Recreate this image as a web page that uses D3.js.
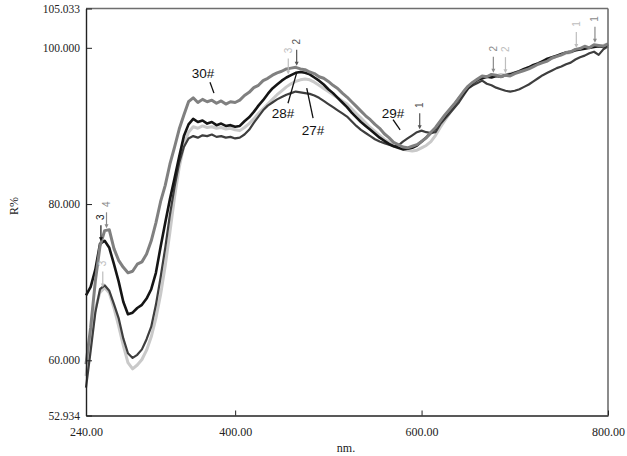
<!DOCTYPE html>
<html>
<head>
<meta charset="utf-8">
<script src="https://cdn.jsdelivr.net/npm/d3@7"></script>
<style>
  html, body { margin: 0; padding: 0; background: #fff; }
  svg { display: block; }
  .serif { font-family: "Liberation Serif", "Times New Roman", serif; }
  .sans { font-family: "Liberation Sans", Arial, sans-serif; }
</style>
</head>
<body>
<svg id="chart" width="627" height="456"></svg>
<script>
// ---------------- DATA ----------------
const wavelengths = [
  240,245,250,255,260,265,270,275,280,285,
  290,295,300,305,310,315,320,325,330,335,
  340,345,350,355,360,365,370,375,380,385,
  390,395,400,405,410,415,420,425,430,435,
  440,445,450,455,460,465,470,475,480,485,
  490,495,500,505,510,515,520,525,530,535,
  540,545,550,555,560,565,570,575,580,585,
  590,595,600,605,610,615,620,625,630,635,
  640,645,650,655,660,665,670,675,680,685,
  690,695,700,705,710,715,720,725,730,735,
  740,745,750,755,760,765,770,775,780,785,
  790,795,800
];

const series27 = [
  58.0,62.4,66.6,68.7,69.3,68.6,66.7,64.4,61.9,59.7,
  58.9,59.4,60.1,61.3,63.0,65.4,68.4,72.1,76.4,80.9,
  84.7,87.5,89.2,89.9,89.7,90.0,89.8,89.9,89.7,89.8,
  89.6,89.7,89.5,89.4,89.8,90.3,90.9,91.6,92.2,92.8,
  93.4,94.0,94.5,95.0,95.4,95.7,95.9,96.0,95.9,95.6,
  95.2,94.8,94.4,94.0,93.6,93.2,92.8,92.2,91.6,91.0,
  90.4,89.8,89.3,88.8,88.3,87.9,87.5,87.2,87.0,86.9,
  86.8,86.9,87.2,87.5,88.0,88.8,89.8,90.7,91.6,92.4,
  93.3,94.1,94.8,95.3,95.8,96.1,96.3,96.5,96.4,96.6,
  96.5,96.7,96.8,97.0,97.2,97.5,97.7,98.0,98.2,98.4,
  98.7,98.9,99.1,99.3,99.4,99.7,99.8,100.0,100.0,100.2,
  100.2,100.3,100.5
];

const series28 = [
  68.3,69.4,71.6,74.9,75.3,74.4,72.3,70.1,67.5,65.9,
  66.1,66.7,67.1,67.9,69.1,71.2,74.5,77.6,80.6,83.3,
  86.1,88.7,90.2,90.9,90.5,90.7,90.3,90.5,90.1,90.3,
  90.0,90.1,89.9,90.0,90.6,91.1,91.8,92.6,93.3,94.1,
  94.8,95.3,95.8,96.2,96.5,96.8,96.9,96.8,96.6,96.2,
  95.8,95.3,94.7,94.2,93.6,93.0,92.4,91.7,91.1,90.5,
  90.0,89.5,89.0,88.5,88.1,87.7,87.4,87.2,87.0,87.1,
  87.2,87.5,88.0,88.5,89.1,89.7,90.5,91.2,92.0,92.7,
  93.5,94.2,94.9,95.5,95.9,96.1,96.3,96.2,96.4,96.3,
  96.5,96.6,96.8,97.0,97.3,97.5,97.8,98.0,98.3,98.6,
  98.8,99.0,99.2,99.4,99.5,99.7,99.8,99.9,100.0,100.1,
  100.2,100.1,100.4
];

const series29 = [
  56.5,61.2,66.1,69.1,69.6,68.9,67.2,65.4,62.8,60.9,
  60.3,60.7,61.4,62.7,64.3,67.1,70.6,74.4,78.6,82.2,
  85.3,87.3,88.4,88.7,88.5,88.8,88.7,88.9,88.6,88.7,
  88.5,88.6,88.4,88.5,88.9,89.5,90.4,91.2,92.0,92.6,
  93.0,93.4,93.7,94.0,94.2,94.4,94.3,94.2,94.1,93.9,
  93.6,93.2,92.8,92.4,92.0,91.6,91.2,90.6,90.0,89.5,
  89.1,88.7,88.3,88.0,87.8,87.6,87.4,87.5,88.0,88.4,
  88.8,89.2,89.4,89.2,89.1,89.2,90.2,90.9,91.6,92.3,
  93.0,93.9,94.8,95.2,95.5,95.8,95.4,95.2,94.9,94.7,
  94.5,94.4,94.5,94.7,95.0,95.3,95.7,96.1,96.5,96.8,
  97.1,97.4,97.6,97.9,98.1,98.5,98.8,99.0,99.3,99.5,
  99.1,99.8,100.2
];

const series30 = [
  59.5,64.2,70.1,74.6,76.6,76.7,74.3,72.8,71.9,71.2,
  71.4,72.3,72.6,73.6,75.3,77.6,80.3,82.4,85.1,87.3,
  89.6,91.4,93.1,93.6,93.0,93.4,93.1,93.3,92.9,93.2,
  92.8,93.1,93.0,93.3,93.9,94.3,94.9,95.2,95.8,96.1,
  96.5,96.8,97.0,97.3,97.4,97.5,97.3,97.2,96.9,96.7,
  96.3,96.1,95.7,95.2,94.8,94.2,93.7,93.1,92.5,91.9,
  91.3,90.8,90.2,89.7,89.0,88.5,87.9,87.6,87.3,87.2,
  87.4,87.6,88.0,88.5,89.2,89.8,90.6,91.4,92.1,92.8,
  93.6,94.4,95.1,95.6,96.0,96.4,96.3,96.6,96.5,96.3,
  96.5,96.4,96.7,96.9,97.1,97.3,97.6,97.9,98.1,98.3,
  98.7,98.9,99.1,99.4,99.5,99.8,99.9,100.2,100.0,100.4,
  100.3,100.2,100.5
];

const seriesNames = ["27#", "28#", "29#", "30#"];

// tick labels
const xTicks = [240, 400, 600, 800];
const yTicks = [52.934, 60, 80, 100, 105.033];
const xDomain = [240, 800];
const yDomain = [52.934, 105.033];

// peak markers (software peak labels): label, wavelength, series index the arrow points at, shade series
const markerLabels = ["3", "4", "3", "3", "2", "1", "2", "2", "1", "1"];
const markerNm     = [256, 262, 258, 457, 466, 598, 677, 690, 766, 786];
const markerSeries = [1, 3, 0, 1, 3, 2, 3, 0, 0, 3];
const markerShade  = [1, 3, 0, 0, 2, 2, 3, 0, 0, 3];

// sample name annotations: text, text position (nm, %R), leader start, leader end
const noteTexts = ["30#", "28#", "27#", "29#"];
const noteTextNm = [365.5, 451.4, 483.6, 569.4];
const noteTextR  = [96.8, 91.65, 89.5, 91.65];
const noteFromNm = [373, 456.7, 483.6, 569.4];
const noteFromR  = [95.6, 92.9, 91.0, 90.8];
const noteToNm   = [377.3, 466, 476.8, 577];
const noteToR    = [94.2, 96.8, 94.85, 89.5];

// ---------------- DRAW ----------------
const allSeries = [series27, series28, series29, series30];
const colors = ["#c9c9c9", "#151515", "#3e3e3e", "#808080"];
const widths = [3, 2.6, 2.2, 3];
const drawOrder = [0, 2, 1, 3];

const svg = d3.select("#chart");
const L = 86, R = 608, T = 8.5, B = 415.5;

const x = d3.scaleLinear().domain(xDomain).range([L, R]);
const y = d3.scaleLinear().domain(yDomain).range([B, T]);

svg.append("rect").attr("width", 627).attr("height", 456).attr("fill", "#fff");

// curves
const line = d3.line().x(d => x(d[0])).y(d => y(d[1]));
const g = svg.append("g");
drawOrder.forEach(i => {
  const pts = wavelengths.map((w, k) => [w, allSeries[i][k]]);
  g.append("path")
    .attr("d", line(pts))
    .attr("fill", "none")
    .attr("stroke", colors[i])
    .attr("stroke-width", widths[i])
    .attr("stroke-linejoin", "round");
});

// frame top/right (grey)
svg.append("line").attr("x1", L).attr("x2", R).attr("y1", T).attr("y2", T)
  .attr("stroke", "#6e6e6e").attr("stroke-width", 1.6);
svg.append("line").attr("x1", R).attr("x2", R).attr("y1", T).attr("y2", B)
  .attr("stroke", "#6e6e6e").attr("stroke-width", 1.6);

// axes
const yAxis = d3.axisLeft(y).tickValues(yTicks).tickFormat(d3.format(".3f"))
  .tickSizeInner(-6).tickSizeOuter(0).tickPadding(6);
const gy = svg.append("g").attr("transform", `translate(${L},0)`).call(yAxis)
  .attr("font-family", null).attr("font-size", null);
gy.select(".domain").attr("stroke", "#222").attr("stroke-width", 1.4);
gy.selectAll(".tick line").attr("stroke", "#222");
gy.selectAll(".tick text").attr("class", "serif").style("font-size", "11.5px").attr("fill", "#222");

const xAxis = d3.axisBottom(x).tickValues(xTicks).tickFormat(d3.format(".2f"))
  .tickSizeInner(-5).tickSizeOuter(0).tickPadding(12);
const gx = svg.append("g").attr("transform", `translate(0,${B})`).call(xAxis)
  .attr("font-family", null).attr("font-size", null);
gx.select(".domain").attr("stroke", "#222").attr("stroke-width", 1.4);
gx.selectAll(".tick line").attr("stroke", "#222");
gx.selectAll(".tick text").attr("class", "serif").style("font-size", "12px").attr("fill", "#222");

// axis titles
svg.append("text").attr("class", "serif").attr("x", (L + R) / 2 - 1).attr("y", 452)
  .attr("text-anchor", "middle").style("font-size", "12px")
  .attr("fill", "#222").text("nm.");
svg.append("text").attr("class", "serif").attr("transform", "translate(18,206) rotate(-90)")
  .attr("text-anchor", "middle").style("font-size", "12px")
  .attr("fill", "#222").text("R%");

// peak markers
const valAt = (si, nm) => {
  const k = d3.bisectLeft(wavelengths, nm);
  if (k <= 0) return allSeries[si][0];
  const w0 = wavelengths[k - 1], w1 = wavelengths[k];
  const v0 = allSeries[si][k - 1], v1 = allSeries[si][k];
  return v0 + (v1 - v0) * (nm - w0) / (w1 - w0);
};
const markerShadeColors = ["#bdbdbd", "#151515", "#555", "#8a8a8a"];
markerLabels.forEach((lab, i) => {
  const px = x(markerNm[i]);
  const tip = y(valAt(markerSeries[i], markerNm[i])) - 2;
  const c = markerShadeColors[markerShade[i]];
  svg.append("line").attr("x1", px).attr("x2", px).attr("y1", tip - 16).attr("y2", tip - 2)
    .attr("stroke", c).attr("stroke-width", 1.2);
  svg.append("path")
    .attr("d", `M${px - 2},${tip - 4}L${px + 2},${tip - 4}L${px},${tip}Z`)
    .attr("fill", c);
  svg.append("text").attr("class", "sans")
    .attr("transform", `translate(${px + 3.5},${tip - 24}) rotate(-90)`)
    .attr("text-anchor", "middle").style("font-size", "10px")
    .attr("fill", c).text(lab);
});

// sample annotations
noteTexts.forEach((t, i) => {
  svg.append("line")
    .attr("x1", x(noteFromNm[i])).attr("y1", y(noteFromR[i]))
    .attr("x2", x(noteToNm[i])).attr("y2", y(noteToR[i]))
    .attr("stroke", "#111").attr("stroke-width", 1.3);
  svg.append("text").attr("class", "sans")
    .attr("x", x(noteTextNm[i])).attr("y", y(noteTextR[i]) + 5)
    .attr("text-anchor", "middle").style("font-size", "13.5px")
    .attr("fill", "#111").text(t);
});
</script>
</body>
</html>
